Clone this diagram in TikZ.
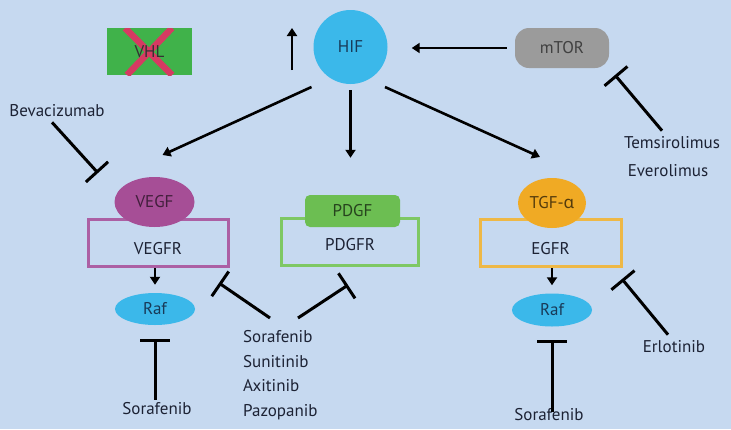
\documentclass[tikz,border=0pt]{standalone}
\usepackage{fontspec}
\setmainfont{PT Sans}
\newfontfamily\grkfont{Noto Sans}
\usetikzlibrary{arrows.meta,shapes.geometric}
\definecolor{bgblue}{RGB}{198,217,240}
\definecolor{inkblue}{RGB}{28,34,52}
\definecolor{hifink}{RGB}{24,58,88}
\definecolor{hifblue}{RGB}{59,184,234}
\definecolor{vhlgreen}{RGB}{64,178,74}
\definecolor{knockred}{RGB}{214,58,98}
\definecolor{torgray}{RGB}{155,155,155}
\definecolor{vegpurple}{RGB}{166,78,150}
\definecolor{vegline}{RGB}{172,96,164}
\definecolor{pdgreen}{RGB}{108,190,82}
\definecolor{pdline}{RGB}{126,200,100}
\definecolor{tgforange}{RGB}{240,170,36}
\definecolor{egline}{RGB}{238,184,70}
\tikzset{
  lbl/.style={font=\fontsize{17}{20}\selectfont,text=inkblue,inner sep=1pt},
  act/.style={line width=2.6pt,-{Triangle[length=8pt,width=10pt]}},
  inh/.style={line width=3pt,-{Bar[width=30pt,line width=3pt]}},
  knock/.style={line width=6.5pt,knockred},
  recbox/.style={draw=#1,line width=3pt,minimum width=140pt,minimum height=47pt,inner sep=0pt},
  blob/.style={ellipse,fill=#1,inner sep=0pt,lbl},
}
\begin{document}
\begin{tikzpicture}[x=1pt,y=-1pt]
    \fill[bgblue] (0,0) rectangle (731,429);
    \useasboundingbox (0,0) rectangle (731,429);
    % top row
    \node[lbl,fill=vhlgreen,minimum width=85pt,minimum height=47pt,inner sep=0pt,text=black!80,
      path picture={
        \draw[knock] ([xshift=18pt]path picture bounding box.north west) -- ([xshift=-20pt]path picture bounding box.south east);
        \draw[knock] ([xshift=-20pt]path picture bounding box.north east) -- ([xshift=20pt]path picture bounding box.south west);
      }] (vhl) at (149.5,51.5) {VHL};
    \node[lbl,circle,fill=hifblue,minimum size=74pt,text=hifink] (hif) at (350.5,47) {HIF};
    \node[lbl,fill=torgray,rounded corners=14pt,minimum width=94pt,minimum height=40pt,text=black!75] (mtor) at (562,48) {mTOR};
    \coordinate (hifup) at (292,28);
    \draw[act] (hifup |- hif.south) ++(0,-14) -- (hifup);
    \draw[act,shorten <=8pt,shorten >=24pt] (mtor.west) -- (hif.east |- mtor.west);
    % receptors
    \node[recbox=vegline,label={[lbl,yshift=-6pt]center:VEGFR}] (vegfr) at (158,243) {};
    \node[blob=vegpurple,minimum width=80pt,minimum height=50pt,text=vegpurple!40!black] (vegf) at (154.5,202) {VEGF};
    \node[recbox=pdline,minimum width=137pt,label={[lbl,yshift=-3pt]center:PDGFR}] (pdgfr) at (350,242) {};
    \node[lbl,fill=pdgreen,rounded corners=5pt,minimum width=95pt,minimum height=32pt,text=pdgreen!35!black] (pdgf) at (352.5,211) {PDGF};
    \node[recbox=egline,minimum width=141pt,label={[lbl,yshift=-6pt]center:EGFR}] (egfr) at (550.5,243) {};
    \node[blob=tgforange,minimum width=68pt,minimum height=50pt,text=tgforange!35!black] (tgf) at (552,203) {TGF-{\grkfont α}};
    \draw[act] ([shift={(-39,40)}]hif.center) -- ([shift={(8,-47)}]vegf.center);
    \draw[act] ([shift={(0,43)}]hif.center) -- ([shift={(-2,-37)}]pdgf.north);
    \draw[act] ([shift={(34.5,40)}]hif.center) -- ([shift={(-12,-46)}]tgf.center);
    % Raf
    \node[blob=hifblue,minimum width=80pt,minimum height=32pt,text=hifink] (raf1) at (155,309) {Raf};
    \node[blob=hifblue,minimum width=80pt,minimum height=33pt,text=hifink] (raf2) at (552,310) {Raf};
    \draw[act] (vegfr.south -| raf1.north) -- ([yshift=8pt]raf1.north);
    \draw[act] (egfr.south -| raf2.north) -- ([yshift=8pt]raf2.north);
    % drugs
    \node[lbl] (beva) at (57,111) {Bevacizumab};
    \node[lbl] (temsi) at (672,143) {Temsirolimus};
    \node[lbl] (evero) at (668,171) {Everolimus};
    \node[lbl,font=\fontsize{17}{24.7}\selectfont,align=left,anchor=north west] (tki) at (242,329) {Sorafenib\\Sunitinib\\Axitinib\\Pazopanib};
    \node[lbl] (sora1) at (157,409) {Sorafenib};
    \node[lbl] (sora2) at (549,415) {Sorafenib};
    \node[lbl] (erlo) at (674,347) {Erlotinib};
    \coordinate (bevbar) at (98,173);
    \coordinate (torbar) at (615,75);
    \coordinate (vegbar) at (219,283);
    \coordinate (pdbar) at (348,285);
    \coordinate (egbar) at (622,279);
    \draw[inh] ([shift={(-5,4)}]beva.south) -- (bevbar);
    \draw[inh] ([shift={(-10,-5)}]temsi.north) -- (torbar);
    \draw[inh] ([xshift=28pt]tki.north west) ++(0,-11) -- (vegbar);
    \draw[inh] ([xshift=56pt]tki.north west) ++(0,-11) -- (pdbar);
    \draw[inh] ([shift={(-6,-5)}]erlo.north) -- (egbar);
    \draw[inh] ([yshift=2pt]sora1.north -| raf1.south) -- ([yshift=-14pt]raf1.south);
    \draw[inh] ([yshift=-4pt]sora2.north -| raf2.south) -- ([yshift=-13pt]raf2.south);
\end{tikzpicture}
\end{document}
